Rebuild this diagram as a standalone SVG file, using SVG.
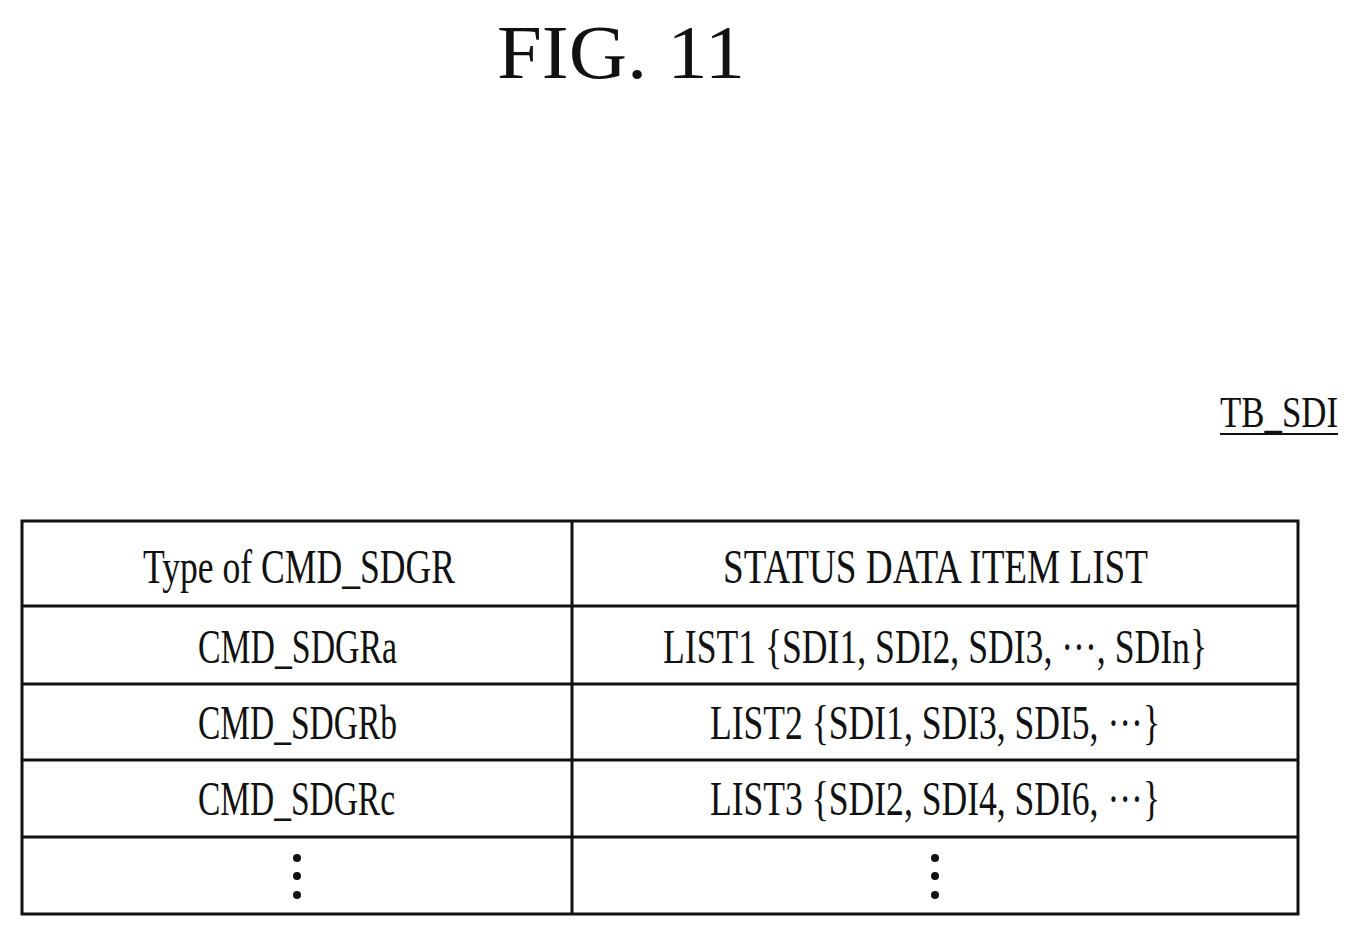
<svg xmlns="http://www.w3.org/2000/svg" width="1360" height="937" viewBox="0 0 1360 937">
<style>
.t{font-family:"Liberation Serif","DejaVu Serif",serif;font-size:48px;fill:#111}
.g{stroke:#111;stroke-width:3;fill:none}
</style>
<rect width="1360" height="937" fill="#fff"/>
<text x="497" y="78" class="t" style="font-size:76px" textLength="248" lengthAdjust="spacingAndGlyphs">FIG. 11</text>
<g id="label-tb">
<text x="1220" y="427" class="t" style="font-size:44px" textLength="118" lengthAdjust="spacingAndGlyphs">TB_SDI</text>
<line x1="1220" y1="434" x2="1338" y2="434" stroke="#111" stroke-width="2"/>
</g>
<g id="table">
<rect x="22" y="521" width="1276" height="393" class="g"/>
<line x1="572" y1="521" x2="572" y2="914" class="g"/>
<line x1="22" y1="606" x2="1298" y2="606" class="g"/>
<line x1="22" y1="684" x2="1298" y2="684" class="g"/>
<line x1="22" y1="760" x2="1298" y2="760" class="g"/>
<line x1="22" y1="837" x2="1298" y2="837" class="g"/>
</g>
<g id="cells">
<text x="143" y="583" class="t" textLength="312" lengthAdjust="spacingAndGlyphs">Type of CMD_SDGR</text>
<text x="723" y="583" class="t" textLength="425" lengthAdjust="spacingAndGlyphs">STATUS DATA ITEM LIST</text>
<text x="198" y="663" class="t" textLength="199" lengthAdjust="spacingAndGlyphs">CMD_SDGRa</text>
<text x="663" y="663" class="t" textLength="544" lengthAdjust="spacingAndGlyphs">LIST1 {SDI1, SDI2, SDI3, ···, SDIn}</text>
<text x="198" y="739" class="t" textLength="199" lengthAdjust="spacingAndGlyphs">CMD_SDGRb</text>
<text x="710" y="739" class="t" textLength="450" lengthAdjust="spacingAndGlyphs">LIST2 {SDI1, SDI3, SDI5, ···}</text>
<text x="198" y="815" class="t" textLength="197" lengthAdjust="spacingAndGlyphs">CMD_SDGRc</text>
<text x="710" y="815" class="t" textLength="450" lengthAdjust="spacingAndGlyphs">LIST3 {SDI2, SDI4, SDI6, ···}</text>
<g fill="#111">
<circle cx="297" cy="858" r="4"/><circle cx="297" cy="876" r="4"/><circle cx="297" cy="895" r="4"/>
<circle cx="935" cy="858" r="4"/><circle cx="935" cy="876" r="4"/><circle cx="935" cy="895" r="4"/>
</g>
</g>
</svg>
